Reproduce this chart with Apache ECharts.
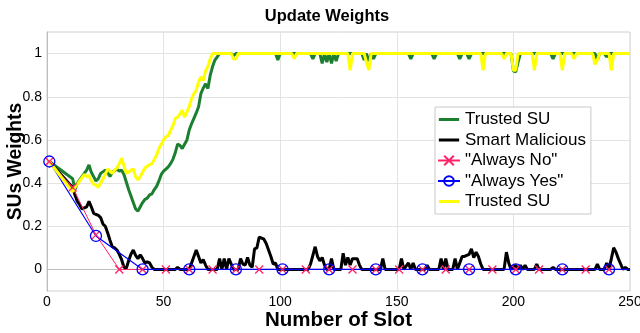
<!DOCTYPE html>
<html>
<head>
<meta charset="utf-8">
<script src="https://cdn.jsdelivr.net/npm/echarts@6/dist/echarts.min.js"></script>
<style>html,body{margin:0;padding:0;background:#fff;}#chart{width:640px;height:333px;}</style>
</head>
<body>
<div id="chart"></div>
<script>
const slotTicks = [0, 50, 100, 150, 200, 250];
const weightTicks = [0, 0.2, 0.4, 0.6, 0.8, 1];
const seriesNames = ['Trusted SU', 'Smart Malicious', '"Always No"', '"Always Yes"', 'Trusted SU '];

const trustedGreen = [[1,0.5],[11,0.42],[12,0.37],[13,0.4],[15,0.43],[17,0.46],[18,0.484],[19,0.45],[20,0.43],[21,0.41],[22,0.42],[23,0.445],[25,0.46],[26,0.45],[27,0.43],[28,0.45],[30,0.465],[31,0.455],[32,0.46],[33,0.44],[34,0.405],[35,0.37],[36,0.34],[37,0.31],[38,0.28],[39,0.27],[40,0.29],[41,0.31],[42,0.325],[43,0.33],[44,0.345],[45,0.35],[46,0.37],[47,0.385],[48,0.41],[49,0.44],[50,0.455],[51,0.465],[52,0.475],[53,0.49],[54,0.51],[55,0.54],[56,0.58],[57,0.575],[58,0.56],[59,0.58],[60,0.6],[61,0.646],[62,0.675],[63,0.7],[64,0.725],[65,0.754],[66,0.815],[67,0.84],[68,0.86],[69,0.838],[70,0.9],[71,0.94],[72,0.97],[73,0.985],[74,1],[79,1],[80,0.99],[81,1],[98,1],[99,0.97],[100,1],[113,1],[114,0.975],[115,1],[117,1],[118,0.955],[119,1],[120,0.96],[121,1],[122,0.955],[123,1],[124,0.965],[125,1],[135,1],[136,0.97],[137,1],[138,0.965],[139,1],[140,0.975],[141,1],[155,1],[156,0.975],[157,1],[165,1],[166,0.975],[167,1],[176,1],[177,0.975],[178,1],[180,1],[181,0.975],[182,1],[199,1],[200,0.92],[201,0.915],[202,0.96],[203,1],[216,1],[217,0.975],[218,1],[235,1],[236,0.97],[237,1],[239,1],[240,0.985],[241,1],[250,1]];

const smartMalicious = [[1,0.5],[11,0.38],[12,0.345],[13,0.315],[14,0.3],[15,0.28],[17,0.29],[18,0.315],[19,0.29],[20,0.26],[22,0.25],[23,0.24],[24,0.21],[25,0.2],[26,0.17],[27,0.135],[28,0.105],[29,0.1],[30,0.09],[31,0.07],[32,0.045],[33,0.01],[34,0.005],[35,0.04],[36,0.07],[37,0.09],[38,0.065],[39,0.05],[40,0.068],[41,0.05],[42,0.03],[43,0.035],[44,0.03],[45,0.01],[46,0],[55,0],[56,0.01],[57,0],[61,0],[62,0.03],[64,0.09],[66,0.03],[67,0.045],[68,0.02],[69,0],[73,0],[74,0.05],[75,0],[76,0.05],[77,0],[78,0.05],[79,0.025],[80,0],[82,0],[83,0.05],[84,0.025],[85,0.02],[86,0.055],[87,0.02],[88,0.01],[89,0.095],[90,0.1],[91,0.15],[92,0.145],[93,0.14],[94,0.12],[95,0.09],[96,0.06],[97,0.025],[98,0.03],[99,0],[112,0],[113,0.025],[115,0.105],[116,0.06],[117,0.04],[118,0.055],[119,0.02],[120,0],[121,0],[122,0.05],[123,0],[126,0],[127,0.075],[128,0.02],[129,0.055],[130,0.02],[131,0.05],[133,0.05],[134,0.02],[135,0],[143,0],[144,0.05],[145,0],[151,0],[152,0.05],[153,0],[155,0.03],[156,0],[157,0.03],[158,0],[162,0],[163,0.02],[164,0],[168,0],[169,0.05],[170,0],[171,0.05],[172,0],[174,0],[175,0.05],[176,0],[177,0.03],[178,0.06],[179,0.06],[181,0.07],[182,0.095],[183,0.055],[184,0.08],[185,0.06],[186,0.025],[187,0],[196,0],[197,0.08],[198,0.03],[199,0],[201,0.02],[202,0],[203,0.02],[204,0],[205,0.02],[206,0],[209,0],[210,0.025],[211,0],[216,0],[217,0.01],[218,0],[235,0],[236,0.025],[237,0],[239,0],[240,0.03],[241,0],[242,0.05],[243,0.1],[244,0.08],[245,0.05],[246,0.025],[247,0],[248,0.01],[249,0],[250,0]];

const alwaysNo = [[1,0.5],[11,0.38],[21,0.16],[31,0],[41,0],[51,0],[61,0],[71,0],[81,0],[91,0],[101,0],[111,0],[121,0],[131,0],[141,0],[151,0],[161,0],[171,0],[181,0],[191,0],[201,0],[211,0],[221,0],[231,0],[241,0]];
const alwaysNoEnd = [250, 0];

const alwaysYes = [[1,0.5],[21,0.155],[41,0],[61,0],[81,0],[101,0],[121,0],[141,0],[161,0],[181,0],[201,0],[221,0],[241,0]];
const alwaysYesEnd = [250, 0];

const trustedYellow = [[1,0.5],[11,0.36],[12,0.38],[14,0.41],[16,0.44],[17,0.43],[18,0.435],[19,0.41],[20,0.395],[21,0.39],[22,0.38],[23,0.4],[24,0.42],[25,0.44],[26,0.465],[27,0.455],[28,0.445],[29,0.46],[30,0.47],[31,0.49],[32,0.515],[33,0.48],[34,0.446],[35,0.45],[36,0.46],[37,0.465],[38,0.43],[39,0.415],[40,0.43],[41,0.45],[42,0.47],[43,0.478],[44,0.485],[45,0.49],[46,0.51],[47,0.53],[48,0.56],[49,0.58],[50,0.6],[51,0.615],[52,0.62],[53,0.645],[54,0.665],[55,0.7],[56,0.705],[57,0.72],[58,0.738],[59,0.705],[60,0.73],[61,0.755],[62,0.79],[63,0.815],[64,0.83],[65,0.87],[66,0.892],[67,0.875],[68,0.92],[69,0.94],[70,0.975],[71,1],[79,1],[80,0.975],[81,0.975],[82,1],[105,1],[106,0.977],[107,1],[129,1],[130,0.923],[131,1],[136,1],[137,0.96],[138,0.923],[139,1],[186,1],[187,0.923],[188,1],[195,1],[196,0.975],[197,1],[199,1],[200,0.923],[201,0.923],[202,1],[208,1],[209,0.923],[210,1],[220,1],[221,0.923],[222,1],[225,1],[226,0.975],[227,1],[234,1],[235,0.95],[236,0.97],[237,1],[241,1],[242,0.923],[243,1],[250,1]];

const FONT = '"Liberation Sans", Arial, sans-serif';
const chart = echarts.init(document.getElementById('chart'), null, {renderer: 'canvas'});
const gridColor = '#e3e3e3';
const xMark = 'path://M0,0L10,10M10,0L0,10';
const lineIcon = 'path://M0,0L0.001,0M0,5H22V8H0ZM0,13L0.001,13';

chart.setOption({
  animation: false,
  backgroundColor: '#fff',
  title: {
    text: 'Update Weights',
    left: 322, top: 3, textAlign: 'center',
    textStyle: {fontFamily: FONT, fontSize: 16.5, fontWeight: 'bold', color: '#000'}
  },
  legend: {
    orient: 'vertical',
    left: 435, top: 107,
    padding: [4, 5, 4, 2],
    itemGap: 3.5,
    itemWidth: 22, itemHeight: 12,
    backgroundColor: '#fff',
    borderColor: '#c8c8c8', borderWidth: 1, borderRadius: 0,
    selectedMode: false,
    data: [
      {name: seriesNames[0], icon: lineIcon, itemStyle: {borderWidth: 0}},
      {name: seriesNames[1], icon: lineIcon, itemStyle: {borderWidth: 0}},
      {name: seriesNames[2]},
      {name: seriesNames[3]},
      {name: seriesNames[4], icon: lineIcon, itemStyle: {borderWidth: 0}}
    ],
    textStyle: {fontFamily: FONT, fontSize: 17, color: '#000'}
  },
  grid: {
    left: 47, right: 10, top: 32, bottom: 42,
    containLabel: false, outerBoundsMode: 'none',
    show: true, borderColor: '#d0d0d0', borderWidth: 1, backgroundColor: 'transparent'
  },
  xAxis: {
    type: 'value', min: 0, max: 250, interval: 50,
    name: 'Number of Slot', nameLocation: 'middle', nameGap: 19, nameMoveOverlap: false,
    nameTextStyle: {fontFamily: FONT, fontSize: 20.5, fontWeight: 'bold', color: '#000'},
    axisLine: {show: true, lineStyle: {color: '#bdbdbd'}},
    axisTick: {show: false},
    axisLabel: {fontFamily: FONT, fontSize: 14, color: '#000', margin: 4, customValues: slotTicks},
    splitLine: {show: true, lineStyle: {color: gridColor, width: 1}}
  },
  yAxis: {
    type: 'value', min: -0.1, max: 1.1,
    name: 'SUs Weights', nameLocation: 'middle', nameGap: 22, nameRotate: 90, nameMoveOverlap: false,
    nameTextStyle: {fontFamily: FONT, fontSize: 19.3, fontWeight: 'bold', color: '#000'},
    axisLine: {show: true, lineStyle: {color: '#bdbdbd'}},
    axisTick: {show: false, customValues: weightTicks},
    axisLabel: {fontFamily: FONT, fontSize: 14, color: '#000', margin: 5, customValues: weightTicks,
      formatter: v => String(Math.round(v * 10) / 10)},
    splitLine: {show: true, lineStyle: {color: gridColor, width: 1}}
  },
  series: [
    {name: seriesNames[0], type: 'line', data: trustedGreen, symbol: 'none',
      lineStyle: {color: '#1b7f2f', width: 3}, itemStyle: {color: '#1b7f2f'}},
    {name: seriesNames[1], type: 'line', data: smartMalicious, symbol: 'none',
      lineStyle: {color: '#000', width: 3}, itemStyle: {color: '#000'}},
    {name: seriesNames[2], type: 'line', data: alwaysNo.concat([{value: alwaysNoEnd, symbol: 'none'}]),
      symbol: xMark, symbolSize: 8, showAllSymbol: true,
      lineStyle: {color: '#ff2266', width: 1},
      itemStyle: {color: 'rgba(0,0,0,0)', borderColor: '#ff2266', borderWidth: 1.3}},
    {name: seriesNames[3], type: 'line', data: alwaysYes.concat([{value: alwaysYesEnd, symbol: 'none'}]),
      symbol: 'circle', symbolSize: 11, showAllSymbol: true,
      lineStyle: {color: '#0000ff', width: 1.2},
      itemStyle: {color: 'rgba(0,0,0,0)', borderColor: '#0000ff', borderWidth: 1.3}},
    {name: seriesNames[4], type: 'line', data: trustedYellow, symbol: 'none',
      lineStyle: {color: '#ffff00', width: 3}, itemStyle: {color: '#ffff00'}}
  ]
});
</script>
</body>
</html>
